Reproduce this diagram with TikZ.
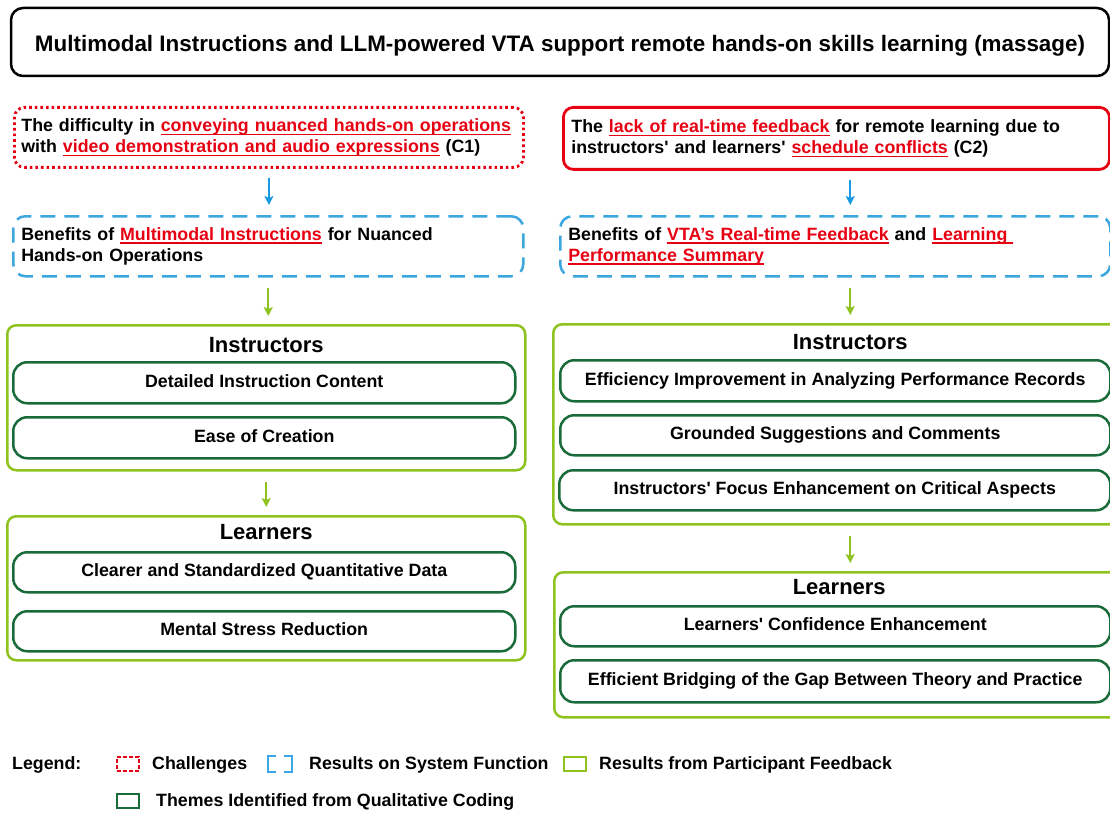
\documentclass[tikz,border=0pt]{standalone}
\usepackage{fontspec}
\setmainfont{Liberation Sans}[Ligatures=TeXOff]
\usetikzlibrary{positioning,arrows.meta}

\definecolor{chred}{HTML}{E60012}
\definecolor{sysblue}{HTML}{3CA6DE}
\definecolor{arrblue}{HTML}{1A9AE0}
\definecolor{fbgreen}{HTML}{8DC21F}
\definecolor{thgreen}{HTML}{1A6B3A}

\newsavebox{\ulbox}
\newcommand{\redul}[1]{\leavevmode{\color{chred}\sbox{\ulbox}{#1}\rlap{\rule[-3.6pt]{\wd\ulbox}{1.5pt}}\usebox{\ulbox}}}
\newcommand{\bodytext}{\fontsize{17.8pt}{21pt}\selectfont\bfseries}
\newcommand{\titletext}{\fontsize{22.4pt}{26pt}\selectfont\bfseries}
\newcommand{\headtext}{\fontsize{22pt}{26pt}\selectfont\bfseries}

\tikzset{
  titlebox/.style={draw=black, line width=2.5pt, rounded corners=12pt, font=\titletext, inner sep=0pt, text height=20pt, text depth=0pt},
  chalbox/.style={draw=chred, line width=2.8pt, rounded corners=10pt, align=left, inner xsep=7pt, anchor=north west},
  chaldots/.style={dash pattern=on 2.6pt off 3pt},
  sysbox/.style={draw=sysblue, line width=2.5pt, dash pattern=on 15pt off 9pt, rounded corners=12pt, align=left, inner xsep=8pt, anchor=north west},
  fbbox/.style={draw=fbgreen, line width=2.5pt, rounded corners=9pt, anchor=north west},
  grouptitle/.style={font=\headtext, inner sep=0pt},
  themebox/.style={draw=thgreen, line width=2.5pt, rounded corners=14pt, anchor=north west, text height=13pt, text depth=4pt},
  barrow/.style={draw=arrblue, line width=2.2pt, -{Stealth[length=9pt,width=9pt,inset=2pt]}, shorten <=9pt, shorten >=10pt},
  garrow/.style={draw=fbgreen, line width=2.2pt, -{Stealth[length=9pt,width=9pt,inset=2pt]}, shorten <=10pt, shorten >=8pt},
  legtext/.style={anchor=west, inner sep=0pt},
  legkey/.style={minimum width=22pt, minimum height=14pt, inner sep=0pt, line width=2.4pt}
}

\begin{document}
\begin{tikzpicture}[x=1pt, y=-1pt, every node/.style={font=\bodytext}]
\useasboundingbox (0,0) rectangle (1110,813);
\clip (0,0) rectangle (1110,813);

% title
\node[titlebox, minimum width=1098, minimum height=68] (title) at (560,42)
  {Multimodal Instructions and LLM-powered VTA support remote hands-on skills learning (massage)};

% challenges
\node[chalbox, chaldots, minimum width=509, minimum height=60, text width=495] (c1) at (13,106)
  {The difficulty in \redul{conveying nuanced hands-on operations}\\
   with \redul{video demonstration and audio expressions} (C1)};
\node[chalbox, minimum width=546, minimum height=62, text width=530, inner xsep=8pt] (c2) at (562,106)
  {The \redul{lack of real-time feedback} for remote learning due to\\
   instructors' and learners' \redul{schedule conflicts} (C2)};

% system function results
\node[sysbox, minimum width=510, minimum height=60, text width=494] (b1) at (12,215)
  {Benefits of \redul{Multimodal Instructions} for Nuanced\\
   Hands-on Operations};
\node[sysbox, minimum width=550, minimum height=60, text width=534, inner xsep=8pt] (b2) at (559,215)
  {Benefits of \redul{VTA’s Real-time Feedback} and \redul{Learning }\\
   \redul{Performance Summary}};

% participant feedback, left
\node[fbbox, minimum width=518, minimum height=145] (gi1) at (6,324) {};
\node[grouptitle] (gi1t) at ([yshift=-21pt]gi1.north) {Instructors};
\node[themebox, minimum width=502, minimum height=41] (t11) at (12,361) {Detailed Instruction Content};
\node[themebox, minimum width=502, minimum height=41] (t12) at (12,416) {Ease of Creation};

\node[fbbox, minimum width=518, minimum height=144] (gl1) at (6,515) {};
\node[grouptitle] (gl1t) at ([yshift=-17pt]gl1.north) {Learners};
\node[themebox, minimum width=502, minimum height=40] (t21) at (12,551) {Clearer and Standardized Quantitative Data};
\node[themebox, minimum width=502, minimum height=40] (t22) at (12,610) {Mental Stress Reduction};

% participant feedback, right
\node[fbbox, minimum width=594, minimum height=200] (gi2) at (552,323) {};
\node[grouptitle] (gi2t) at ([yshift=-19pt]gi2.north) {Instructors};
\node[themebox, minimum width=550, minimum height=41] (t31) at (559,359) {Efficiency Improvement in Analyzing Performance Records};
\node[themebox, minimum width=550, minimum height=40] (t32) at (559,414) {Grounded Suggestions and Comments};
\node[themebox, minimum width=551, minimum height=40] (t33) at (558,469) {Instructors' Focus Enhancement on Critical Aspects};

\node[fbbox, minimum width=570, minimum height=145] (gl2) at (553,571) {};
\node[grouptitle] (gl2t) at ([yshift=-16pt]gl2.north) {Learners};
\node[themebox, minimum width=550, minimum height=40] (t41) at (559,605) {Learners' Confidence Enhancement};
\node[themebox, minimum width=550, minimum height=42] (t42) at (559,659) {Efficient Bridging of the Gap Between Theory and Practice};

% arrows
\draw[barrow] (c1.south) -- (c1.south |- b1.north);
\draw[barrow] (gi2.north |- c2.south) -- (gi2.north |- b2.north);
\draw[garrow] (b1.south) -- (b1.south |- gi1.north);
\draw[garrow] (gi2.north |- b2.south) -- (gi2.north);
\draw[garrow] (gl1.north |- gi1.south) -- (gl1.north);
\draw[garrow] (gi2.south) -- (gi2.south |- gl2.north);

% legend
\node[legtext] (leg) at (12,765) {Legend:};
\node[legkey, draw=chred, dash pattern=on 4pt off 2pt] (k1) at (128,764) {};
\node[legtext] (k1t) at (152,765) {Challenges};
\node[legkey] (k2) at (280,764) {};
\draw[sysblue, line width=2.4pt] ([xshift=8pt]k2.north west) -| (k2.south west) -- ([xshift=8pt]k2.south west);
\draw[sysblue, line width=2.4pt] ([xshift=-8pt]k2.north east) -| (k2.south east) -- ([xshift=-8pt]k2.south east);
\node[legtext] (k2t) at (309,765) {Results on System Function};
\node[legkey, draw=fbgreen] (k3) at (575,764) {};
\node[legtext] (k3t) at (599,765) {Results from Participant Feedback};
\node[legkey, draw=thgreen] (k4) at (128,801) {};
\node[legtext] (k4t) at (156,802) {Themes Identified from Qualitative Coding};
\end{tikzpicture}
\end{document}
